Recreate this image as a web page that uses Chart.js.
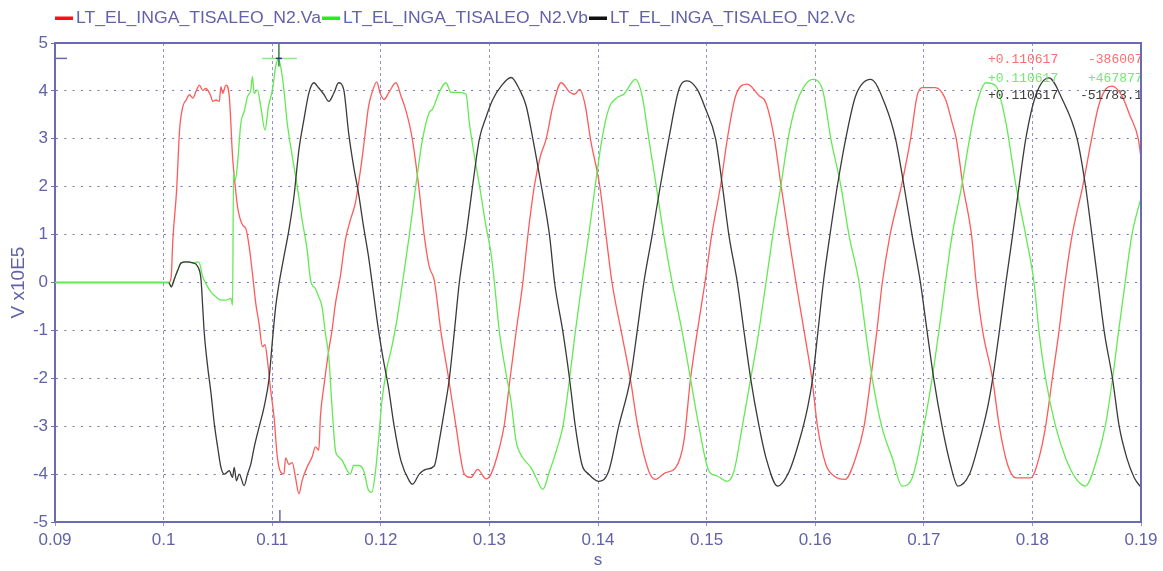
<!DOCTYPE html>
<html><head><meta charset="utf-8">
<script src="https://cdn.jsdelivr.net/npm/chart.js@4.4.1/dist/chart.umd.min.js"></script>
<style>html,body{margin:0;padding:0;background:#fff}#wrap{width:1163px;height:571px;position:relative}</style>
</head><body><div id="wrap"><canvas id="c" width="1163" height="571"></canvas></div>
<script>
// ---------- data (V x10E5 vs s) ----------
const seriesLabels = ["LT_EL_INGA_TISALEO_N2.Va", "LT_EL_INGA_TISALEO_N2.Vb", "LT_EL_INGA_TISALEO_N2.Vc"];

const vaTime = [0.09,0.1005,0.1007,0.10085,0.1012,0.10147,0.10177,0.10208,0.10238,0.10269,0.103,0.1033,0.1036,0.1039,0.10437,0.10452,0.10482,0.10513,0.10528,0.10544,0.10574,0.10605,0.10635,0.1066,0.10681,0.10727,0.10757,0.10788,0.10818,0.10849,0.10879,0.1091,0.10934,0.10956,0.10986,0.11017,0.11047,0.11078,0.11108,0.11124,0.11154,0.11185,0.11215,0.11246,0.11276,0.11322,0.11368,0.11398,0.11429,0.11444,0.11475,0.11521,0.11551,0.11582,0.11627,0.11673,0.11719,0.11765,0.11795,0.11826,0.11856,0.11887,0.11917,0.11963,0.11994,0.1203,0.12075,0.1214,0.12185,0.1223,0.1229,0.12348,0.124,0.12446,0.12492,0.12554,0.12625,0.12692,0.12769,0.1283,0.12892,0.12969,0.13015,0.13092,0.13138,0.1319,0.13246,0.13308,0.13354,0.13415,0.1347,0.13523,0.13585,0.13662,0.1374,0.13785,0.1383,0.13883,0.1393,0.14015,0.14074,0.14129,0.14215,0.14298,0.14366,0.14468,0.14529,0.14622,0.14714,0.14791,0.14852,0.14914,0.14985,0.15046,0.15129,0.15191,0.15268,0.15375,0.15483,0.15545,0.15624,0.15685,0.15755,0.15823,0.15899,0.15969,0.16021,0.16098,0.16174,0.16275,0.16373,0.1645,0.16511,0.16567,0.16618,0.16688,0.16795,0.16878,0.16939,0.16985,0.17107,0.17199,0.1726,0.17299,0.1736,0.1744,0.17482,0.17543,0.17634,0.17695,0.17771,0.17848,0.17985,0.18061,0.18122,0.18183,0.18244,0.183,0.18365,0.18465,0.18545,0.1861,0.1868,0.18732,0.18823,0.18899,0.18976,0.19];
const vaVolts = [0,0,0.12,0.88,1.93,3.18,3.67,3.81,3.92,3.85,4.0,4.12,4.01,4.05,3.88,3.78,3.81,3.78,4.09,3.95,4.12,3.88,2.63,2.0,1.58,1.2,1.13,0.75,0.19,-0.44,-0.86,-1.34,-1.3,-1.62,-2.25,-2.81,-3.64,-3.96,-4.0,-3.66,-3.8,-3.76,-4.08,-4.41,-4.13,-3.85,-3.64,-3.43,-3.5,-2.8,-2.18,-1.41,-1.0,-0.44,0.12,0.88,1.3,1.65,2.07,2.56,3.11,3.67,3.95,4.19,3.95,3.82,3.97,4.17,3.9,3.6,3.0,2.03,0.98,0.33,0.05,-1.03,-2.01,-3.0,-4.0,-4.07,-3.9,-4.1,-4.0,-3.45,-2.96,-2.01,-1.03,0,0.98,2.03,2.64,3.0,3.69,4.17,3.97,3.93,4.03,3.69,3.0,2.03,0.98,0,-1.03,-2.01,-3.0,-3.94,-4.11,-3.97,-3.87,-3.31,-2.01,-1.03,0,0.98,2.03,3.0,3.9,4.14,3.9,3.76,3.0,2.03,0.98,0,-1.03,-2.01,-3.0,-3.8,-4.04,-4.11,-3.66,-3.0,-2.01,-1.03,0,0.98,2.03,3.0,3.9,4.07,4.07,3.83,3.34,3.0,2.03,0.98,0,-1.03,-2.01,-3.0,-3.8,-4.08,-4.08,-3.66,-3.0,-2.01,-1.03,0,0.98,2.03,3.0,3.69,4.05,4.1,3.9,3.48,2.99,2.6];

const vbTime = [0.09,0.1005,0.1007,0.101,0.10131,0.10162,0.10208,0.10269,0.10324,0.1036,0.10406,0.10437,0.10482,0.10528,0.10574,0.1062,0.10635,0.10644,0.1066,0.10681,0.10711,0.10742,0.10773,0.10803,0.10818,0.10834,0.10864,0.10895,0.10934,0.10965,0.11002,0.11032,0.11056,0.11078,0.11108,0.11139,0.11185,0.11231,0.11276,0.11322,0.11353,0.11398,0.11429,0.11459,0.1149,0.11521,0.11551,0.11582,0.11612,0.11643,0.11689,0.11719,0.1175,0.11795,0.11841,0.11887,0.11917,0.11948,0.11979,0.12009,0.12055,0.12101,0.12147,0.122,0.12262,0.12323,0.12385,0.12446,0.12477,0.12538,0.126,0.12646,0.12723,0.12785,0.12815,0.12862,0.12908,0.12969,0.13015,0.13046,0.13092,0.13154,0.132,0.13246,0.13308,0.13385,0.13431,0.13492,0.13554,0.13615,0.13677,0.13738,0.13791,0.13852,0.13914,0.13975,0.14037,0.14098,0.14175,0.14237,0.14345,0.14406,0.14468,0.14535,0.14606,0.14683,0.14775,0.14852,0.14929,0.15022,0.15098,0.1519,0.15252,0.15329,0.15406,0.15468,0.15547,0.15609,0.15685,0.1575,0.1582,0.159,0.15976,0.16067,0.16144,0.16235,0.16312,0.16404,0.16465,0.16526,0.16612,0.16709,0.16801,0.16893,0.17,0.17076,0.17138,0.17199,0.1726,0.1735,0.17421,0.17482,0.17573,0.17665,0.17756,0.17848,0.17939,0.18015,0.18061,0.18122,0.18213,0.18305,0.18396,0.18488,0.18579,0.18671,0.18738,0.18793,0.18854,0.18915,0.1898,0.19];
const vbVolts = [0,0,-0.09,0.08,0.26,0.41,0.43,0.41,0.43,0.12,-0.09,-0.2,-0.3,-0.37,-0.37,-0.33,-0.47,2.28,2.14,2.49,3.32,3.57,3.88,4.02,4.3,3.95,4.02,3.67,3.18,3.67,4.02,4.51,4.65,4.51,4.02,3.32,2.63,2.0,1.3,0.68,0.05,-0.13,-0.3,-0.51,-1.07,-1.55,-2.6,-3.5,-3.64,-3.71,-3.92,-4.0,-3.82,-3.82,-3.92,-4.34,-4.38,-4.0,-3.3,-2.5,-1.8,-1.35,-0.8,0,0.98,2.03,3.0,3.55,3.62,3.97,4.17,3.97,3.97,3.93,3.34,2.64,2.03,1.17,0.61,0,-1.03,-1.91,-2.5,-3.31,-3.66,-3.87,-4.08,-4.32,-3.94,-3.52,-3.0,-2.01,-1.03,0,0.98,2.03,3.0,3.62,3.86,3.93,4.24,3.9,3.0,2.03,0.98,0,-1.03,-2.01,-3.0,-3.94,-4.04,-4.15,-3.94,-3.0,-2.01,-1.21,0,0.98,2.03,3.0,3.69,4.1,4.24,4.03,3.0,2.03,0.98,0,-1.03,-2.01,-3.0,-3.66,-4.25,-4.08,-3.0,-2.01,-1.03,0,0.98,2.03,3.0,3.69,4.17,4.1,3.34,2.03,0.98,0,-1.03,-2.01,-3.0,-3.66,-4.08,-4.25,-3.8,-3.0,-2.01,-1.03,0,0.98,1.6,1.75];

const vcTime = [0.1005,0.1007,0.101,0.10131,0.10162,0.10208,0.10269,0.10315,0.10345,0.1036,0.10375,0.10406,0.10437,0.10467,0.10498,0.10528,0.10559,0.10605,0.10635,0.1065,0.10671,0.10696,0.10742,0.10773,0.10803,0.10834,0.10879,0.10925,0.10971,0.11002,0.11032,0.11063,0.11108,0.11154,0.112,0.11246,0.11292,0.11337,0.11383,0.11429,0.11475,0.11521,0.11567,0.11612,0.11658,0.11704,0.1175,0.11795,0.11841,0.11887,0.11933,0.11979,0.12024,0.1207,0.12123,0.12185,0.12262,0.12292,0.12354,0.12415,0.12492,0.12538,0.12585,0.12631,0.12677,0.12723,0.12785,0.12846,0.12908,0.12969,0.13031,0.13108,0.132,0.13277,0.13338,0.134,0.13477,0.13554,0.136,0.13677,0.13738,0.13791,0.13852,0.13914,0.14006,0.14098,0.14191,0.14298,0.1436,0.14422,0.14498,0.14575,0.14652,0.14745,0.14822,0.14914,0.14991,0.15083,0.15145,0.15206,0.15283,0.15345,0.15406,0.15483,0.15547,0.15654,0.15761,0.15853,0.1593,0.15976,0.16025,0.16075,0.16135,0.16205,0.16281,0.16373,0.16511,0.16648,0.1674,0.16817,0.16893,0.16969,0.17031,0.17092,0.17168,0.17245,0.17314,0.17421,0.17512,0.17588,0.17634,0.17695,0.17756,0.17817,0.17878,0.17939,0.1803,0.18152,0.18274,0.18412,0.18488,0.18549,0.18604,0.18662,0.18738,0.18799,0.18869,0.18939,0.18991,0.19];
const vcVolts = [0,-0.09,0.08,0.26,0.41,0.43,0.41,0.33,0.05,-0.51,-1.07,-1.76,-2.32,-2.95,-3.44,-3.86,-4.0,-3.93,-4.07,-3.86,-4.14,-4.0,-4.24,-4.0,-3.79,-3.44,-3.02,-2.6,-2.01,-1.21,-0.51,-0.02,0.54,1.1,1.79,2.77,3.4,3.95,4.17,4.06,3.93,3.78,3.95,4.17,4.03,3.12,2.42,1.86,1.17,0.54,-0.23,-1.0,-1.62,-2.18,-3.0,-3.72,-4.14,-4.21,-4.0,-3.9,-3.83,-3.31,-2.68,-2.01,-1.03,0,0.98,2.03,3.0,3.45,3.82,4.1,4.28,4.03,3.69,3.0,2.03,0.98,0,-1.03,-2.01,-3.0,-3.8,-4.0,-4.15,-3.94,-3.0,-2.01,-1.03,0,0.98,2.03,3.0,4.03,4.21,4.03,3.62,3.0,2.03,0.98,0,-1.03,-2.01,-3.0,-3.66,-4.25,-3.94,-3.31,-2.61,-2.01,-1.03,0,0.98,2.03,3.0,3.9,4.24,3.69,3.0,2.03,0.98,0,-1.03,-2.01,-3.0,-3.8,-4.25,-4.0,-3.31,-2.6,-2.01,-1.03,0,0.98,2.03,3.0,3.9,4.27,3.83,3.0,2.03,0.98,0,-1.03,-2.01,-3.0,-3.66,-4.08,-4.25,-4.27];

const xTickValues = [0.09,0.1,0.11,0.12,0.13,0.14,0.15,0.16,0.17,0.18,0.19];
const yTickValues = [-5,-4,-3,-2,-1,0,1,2,3,4,5];
const cursorTime = 0.110617;
const cursorLevel = 4.67877;
const cursorReadout = [["+0.110617","-386007"],["+0.110617","+467877"],["+0.110617","-51783.1"]];

// ---------- styling ----------
const lineColors = ["#ff5a5a", "#62ea52", "#3a3a3a"];
const legendColors = ["#ff1010", "#22ee22", "#111111"];
const readoutColors = ["#ff6d6d", "#74e874", "#3c3c3c"];
const inkBlue = "#6262a8";
const axisBlue = "#6b6bb5";

function toPoints(ts, vs){ return ts.map((t,i)=>({x:t, y:vs[i]})); }

const legendPlugin = {
  id:'topLegend',
  afterDraw(chart){
    const ctx = chart.ctx;
    ctx.save();
    ctx.font = '17px "Liberation Sans", Arial, sans-serif';
    ctx.textBaseline = 'middle';
    let x = 55; const y = 18; const textWidth = 245;
    chart.data.datasets.forEach((ds,i)=>{
      ctx.fillStyle = legendColors[i];
      ctx.fillRect(x, y-1.5, 18, 3.5);
      x += 21;
      ctx.fillStyle = inkBlue;
      const w = ctx.measureText(ds.label).width;
      ctx.save();
      ctx.translate(x, y+0.5);
      ctx.scale(textWidth / w, 1);
      ctx.fillText(ds.label, 0, 0);
      ctx.restore();
      x += textWidth + 1;
    });
    ctx.restore();
  }
};

const framePlugin = {
  id:'frame',
  afterDatasetsDraw(chart){
    const {ctx, chartArea:a, scales} = chart;
    ctx.save();
    ctx.beginPath(); ctx.rect(a.left, a.top, a.right-a.left, a.bottom-a.top); ctx.clip();
    ctx.font = '13px "Liberation Mono", "DejaVu Sans Mono", monospace';
    ctx.textBaseline = 'middle';
    const rows = [a.top+17, a.top+36, a.top+53];
    cursorReadout.forEach((r,i)=>{
      ctx.fillStyle = readoutColors[i];
      ctx.fillText(r[0], a.right-153, rows[i]);
      ctx.fillText(r[1], i===2 ? a.right-61 : a.right-53, rows[i]);
    });
    ctx.restore();
    ctx.save();
    const cx = scales.x.getPixelForValue(cursorTime);
    const cy = scales.y.getPixelForValue(cursorLevel);
    ctx.lineWidth = 1.5;
    ctx.strokeStyle = '#8ee88e';
    ctx.beginPath(); ctx.moveTo(cx-17, cy); ctx.lineTo(cx+18, cy); ctx.stroke();
    ctx.strokeStyle = '#3d7d45';
    ctx.beginPath(); ctx.moveTo(cx, a.top); ctx.lineTo(cx, cy+8); ctx.stroke();
    ctx.strokeStyle = '#30306e';
    ctx.beginPath(); ctx.moveTo(cx-3, cy); ctx.lineTo(cx+3, cy); ctx.stroke();
    ctx.strokeStyle = axisBlue;
    ctx.beginPath(); ctx.moveTo(a.left, cy); ctx.lineTo(a.left+12, cy); ctx.stroke();
    ctx.beginPath(); ctx.moveTo(cx+1, a.bottom-12); ctx.lineTo(cx+1, a.bottom); ctx.stroke();
    ctx.lineWidth = 2;
    ctx.beginPath();
    ctx.moveTo(a.left, a.top); ctx.lineTo(a.right, a.top); ctx.lineTo(a.right, a.bottom);
    ctx.stroke();
    ctx.restore();
  }
};

const tickFont = {family:'"Liberation Sans", Arial, sans-serif', size:17};
const titleFont = {family:'"Liberation Sans", Arial, sans-serif', size:19};

new Chart(document.getElementById('c'), {
  type:'line',
  data:{
    datasets:[
      {label:seriesLabels[0], data:toPoints(vaTime,vaVolts), borderColor:lineColors[0], order:3},
      {label:seriesLabels[1], data:toPoints(vbTime,vbVolts), borderColor:lineColors[1], order:2},
      {label:seriesLabels[2], data:toPoints(vcTime,vcVolts), borderColor:lineColors[2], order:1}
    ]
  },
  options:{
    responsive:false, animation:false, devicePixelRatio:1, events:[],
    layout:{padding:{top:43, right:22, left:0, bottom:0}},
    elements:{
      point:{radius:0},
      line:{borderWidth:1.3, cubicInterpolationMode:'monotone', fill:false}
    },
    plugins:{legend:{display:false}, tooltip:{enabled:false}, title:{display:false}},
    scales:{
      x:{
        type:'linear', min:0.09, max:0.19,
        afterBuildTicks:s=>{ s.ticks = xTickValues.map(v=>({value:v})); },
        afterFit:s=>{ s.height = 49; },
        ticks:{color:inkBlue, font:tickFont, padding:4, maxRotation:0, autoSkip:false,
          callback:v=>String(Number(Number(v).toFixed(4)))},
        grid:{color:'#9393d2', lineWidth:1, tickLength:4},
        border:{color:axisBlue, width:2, dash:[3,3]},
        title:{display:true, text:'s', color:inkBlue, font:tickFont, padding:{top:0,bottom:0}}
      },
      y:{
        type:'linear', min:-5, max:5,
        afterBuildTicks:s=>{ s.ticks = yTickValues.map(v=>({value:v})); },
        afterFit:s=>{ s.width = 55; },
        ticks:{color:inkBlue, font:tickFont, padding:3, autoSkip:false},
        grid:{color:'#7070ba', lineWidth:1, tickLength:4},
        border:{color:axisBlue, width:2, dash:[2,6.3]},
        title:{display:true, text:'V x10E5', color:inkBlue, font:titleFont, padding:{top:7,bottom:0}}
      }
    }
  },
  plugins:[legendPlugin, framePlugin]
});
</script></body></html>
